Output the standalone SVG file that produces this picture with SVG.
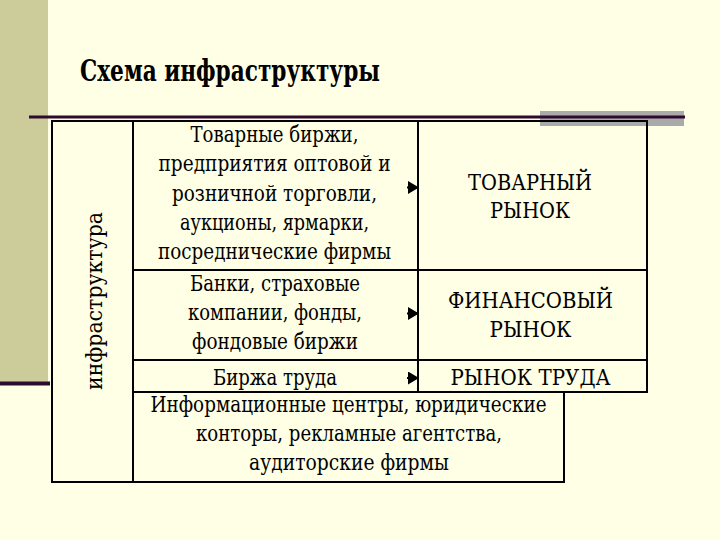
<svg xmlns="http://www.w3.org/2000/svg" width="720" height="540" viewBox="0 0 720 540">
<defs>
<style>
.bg{fill:#FFFFE6}
.cell{fill:none;stroke:#000;stroke-width:2}
.t{font-size:23px;fill:#000;text-anchor:middle}
.title{font-size:29px;font-weight:bold;fill:#000}
.conn{stroke:#000;stroke-width:2;fill:none}
</style>
<marker id="ah" markerWidth="11" markerHeight="13" refX="10" refY="6.5" orient="auto" markerUnits="userSpaceOnUse">
<path d="M0,0 L11,6.5 L0,13 Z" fill="#000"/>
</marker>
</defs>
<rect class="bg" x="0" y="0" width="720" height="540"/>
<g id="decor">
<rect x="0" y="0" width="48" height="382" fill="#CCCC9A"/>
<rect x="540" y="111" width="144" height="15" fill="#AAAAAA"/>
<line x1="29" y1="117" x2="685" y2="117" stroke="#2E0A2E" stroke-width="3"/>
<line x1="0" y1="383.5" x2="50" y2="383.5" stroke="#2E0A2E" stroke-width="4"/>
</g>
<g font-family="'DejaVu Serif', 'Liberation Serif', serif">
<g id="title">
<text class="title" x="80" y="81" textLength="300" lengthAdjust="spacingAndGlyphs">Схема инфраструктуры</text>
</g>
<g id="infra">
<rect class="cell" x="52" y="121" width="81" height="361"/>
<text class="t" transform="translate(102,301) rotate(-90)" x="0" y="0" textLength="178" lengthAdjust="spacingAndGlyphs">инфраструктура</text>
</g>
<g id="commodity-institutions">
<rect class="cell" x="133" y="121" width="285" height="149"/>
<text class="t" x="274.5" y="142" textLength="168" lengthAdjust="spacingAndGlyphs">Товарные биржи,</text>
<text class="t" x="274.5" y="171" textLength="232" lengthAdjust="spacingAndGlyphs">предприятия оптовой и</text>
<text class="t" x="274.5" y="201" textLength="205" lengthAdjust="spacingAndGlyphs">розничной торговли,</text>
<text class="t" x="274.5" y="230" textLength="189" lengthAdjust="spacingAndGlyphs">аукционы, ярмарки,</text>
<text class="t" x="274.5" y="259" textLength="233" lengthAdjust="spacingAndGlyphs">посреднические фирмы</text>
</g>
<g id="financial-institutions">
<rect class="cell" x="133" y="270" width="285" height="90"/>
<text class="t" x="275" y="291" textLength="170" lengthAdjust="spacingAndGlyphs">Банки, страховые</text>
<text class="t" x="275" y="320" textLength="174" lengthAdjust="spacingAndGlyphs">компании, фонды,</text>
<text class="t" x="275" y="349" textLength="166" lengthAdjust="spacingAndGlyphs">фондовые биржи</text>
</g>
<g id="labour-exchange">
<rect class="cell" x="133" y="360" width="285" height="32"/>
<text class="t" x="275" y="385" textLength="124" lengthAdjust="spacingAndGlyphs">Биржа труда</text>
</g>
<g id="services">
<rect class="cell" x="133" y="392" width="431" height="90"/>
<text class="t" x="348.5" y="412" textLength="396" lengthAdjust="spacingAndGlyphs">Информационные центры, юридические</text>
<text class="t" x="349" y="441" textLength="306" lengthAdjust="spacingAndGlyphs">конторы, рекламные агентства,</text>
<text class="t" x="349" y="470" textLength="200" lengthAdjust="spacingAndGlyphs">аудиторские фирмы</text>
</g>
<g id="commodity-market">
<rect class="cell" x="418" y="121" width="229" height="149"/>
<text class="t" x="530" y="190" textLength="124" lengthAdjust="spacingAndGlyphs">ТОВАРНЫЙ</text>
<text class="t" x="530" y="218" textLength="80" lengthAdjust="spacingAndGlyphs">РЫНОК</text>
</g>
<g id="financial-market">
<rect class="cell" x="418" y="270" width="229" height="90"/>
<text class="t" x="530.5" y="308" textLength="165" lengthAdjust="spacingAndGlyphs">ФИНАНСОВЫЙ</text>
<text class="t" x="530.5" y="337" textLength="82" lengthAdjust="spacingAndGlyphs">РЫНОК</text>
</g>
<g id="labour-market">
<rect class="cell" x="418" y="360" width="229" height="32"/>
<text class="t" x="530.5" y="385" textLength="160" lengthAdjust="spacingAndGlyphs">РЫНОК ТРУДА</text>
</g>
</g>
<g id="connectors">
<path class="conn" d="M407,187.5 H418" marker-end="url(#ah)"/>
<path class="conn" d="M407,313.5 H418" marker-end="url(#ah)"/>
<path class="conn" d="M407,378 H418" marker-end="url(#ah)"/>
</g>
</svg>
